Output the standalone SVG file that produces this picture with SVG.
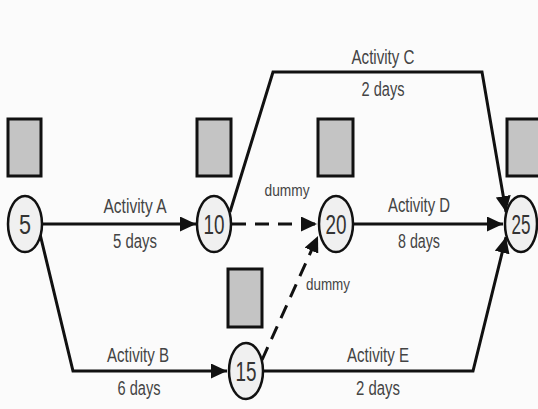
<svg xmlns="http://www.w3.org/2000/svg" width="538" height="409" viewBox="0 0 538 409">
  <style>
    .conn { fill: none; stroke: #111; stroke-width: 3; }
    .dash { stroke-dasharray: 14 9; }
    .node ellipse { fill: #f0f0f0; stroke: #111; stroke-width: 2.5; }
    .box { fill: #c4c4c4; stroke: #111; stroke-width: 3; }
    .num { font-family: "Liberation Sans", Arial, sans-serif; font-size: 28px; fill: #333; text-anchor: middle; }
    .lbl { font-family: "Liberation Sans", Arial, sans-serif; font-size: 20px; fill: #444; text-anchor: middle; }
    .dm { font-family: "Liberation Sans", Arial, sans-serif; font-size: 16px; fill: #444; text-anchor: middle; }
  </style>
  <defs>
    <marker id="arrow" markerUnits="userSpaceOnUse" markerWidth="17" markerHeight="15" refX="16" refY="7.5" orient="auto">
      <path d="M0,0 L16,7.5 L0,15 z" fill="#111"/>
    </marker>
  </defs>
  <rect width="538" height="409" fill="#fbfbfb"/>

  <!-- connectors -->
  <g id="connectors">
    <path id="act-a" class="conn" d="M42,224 L196,224" marker-end="url(#arrow)"/>
    <path id="act-c" class="conn" d="M230,212 L273,72 L482,72 L506,212" marker-end="url(#arrow)"/>
    <path id="dummy-10-20" class="conn dash" d="M232,224 L317,224" marker-end="url(#arrow)"/>
    <path id="act-d" class="conn" d="M353,224 L503,224" marker-end="url(#arrow)"/>
    <path id="act-b" class="conn" d="M40,234 L73,371 L227,371" marker-end="url(#arrow)"/>
    <path id="dummy-15-20" class="conn dash" d="M262,360 L318,236" marker-end="url(#arrow)"/>
    <path id="act-e" class="conn" d="M263,371 L473,371 L506,237" marker-end="url(#arrow)"/>

    <text class="lbl" x="135" y="213" textLength="63" lengthAdjust="spacingAndGlyphs">Activity A</text>
    <text class="lbl" x="135" y="248" textLength="44" lengthAdjust="spacingAndGlyphs">5 days</text>
    <text class="lbl" x="383" y="64" textLength="63" lengthAdjust="spacingAndGlyphs">Activity C</text>
    <text class="lbl" x="383" y="96" textLength="43" lengthAdjust="spacingAndGlyphs">2 days</text>
    <text class="lbl" x="419" y="212" textLength="62" lengthAdjust="spacingAndGlyphs">Activity D</text>
    <text class="lbl" x="419" y="248" textLength="42" lengthAdjust="spacingAndGlyphs">8 days</text>
    <text class="lbl" x="138" y="362" textLength="62" lengthAdjust="spacingAndGlyphs">Activity B</text>
    <text class="lbl" x="139" y="395" textLength="43" lengthAdjust="spacingAndGlyphs">6 days</text>
    <text class="lbl" x="378" y="362" textLength="62" lengthAdjust="spacingAndGlyphs">Activity E</text>
    <text class="lbl" x="378" y="395" textLength="44" lengthAdjust="spacingAndGlyphs">2 days</text>
    <text class="dm" x="287" y="196" textLength="45" lengthAdjust="spacingAndGlyphs">dummy</text>
    <text class="dm" x="328" y="290" textLength="44" lengthAdjust="spacingAndGlyphs">dummy</text>
  </g>

  <!-- event nodes with their time boxes -->
  <g id="node-5" class="node">
    <rect class="box" x="8" y="119" width="33" height="57"/>
    <ellipse cx="25" cy="224" rx="17" ry="28"/>
    <text class="num" x="25" y="234" textLength="12" lengthAdjust="spacingAndGlyphs">5</text>
  </g>
  <g id="node-10" class="node">
    <rect class="box" x="197" y="119" width="34" height="57"/>
    <ellipse cx="214" cy="224" rx="17" ry="28"/>
    <text class="num" x="214" y="234" textLength="21" lengthAdjust="spacingAndGlyphs">10</text>
  </g>
  <g id="node-20" class="node">
    <rect class="box" x="318" y="119" width="35" height="57"/>
    <ellipse cx="336" cy="224" rx="17" ry="28"/>
    <text class="num" x="336" y="234" textLength="21" lengthAdjust="spacingAndGlyphs">20</text>
  </g>
  <g id="node-25" class="node">
    <rect class="box" x="507" y="119" width="34" height="57"/>
    <ellipse cx="521" cy="224" rx="16" ry="28"/>
    <text class="num" x="521" y="234" textLength="19" lengthAdjust="spacingAndGlyphs">25</text>
  </g>
  <g id="node-15" class="node">
    <rect class="box" x="228" y="269" width="34" height="58"/>
    <ellipse cx="246" cy="371" rx="17" ry="28"/>
    <text class="num" x="246" y="381" textLength="21" lengthAdjust="spacingAndGlyphs">15</text>
  </g>
</svg>
